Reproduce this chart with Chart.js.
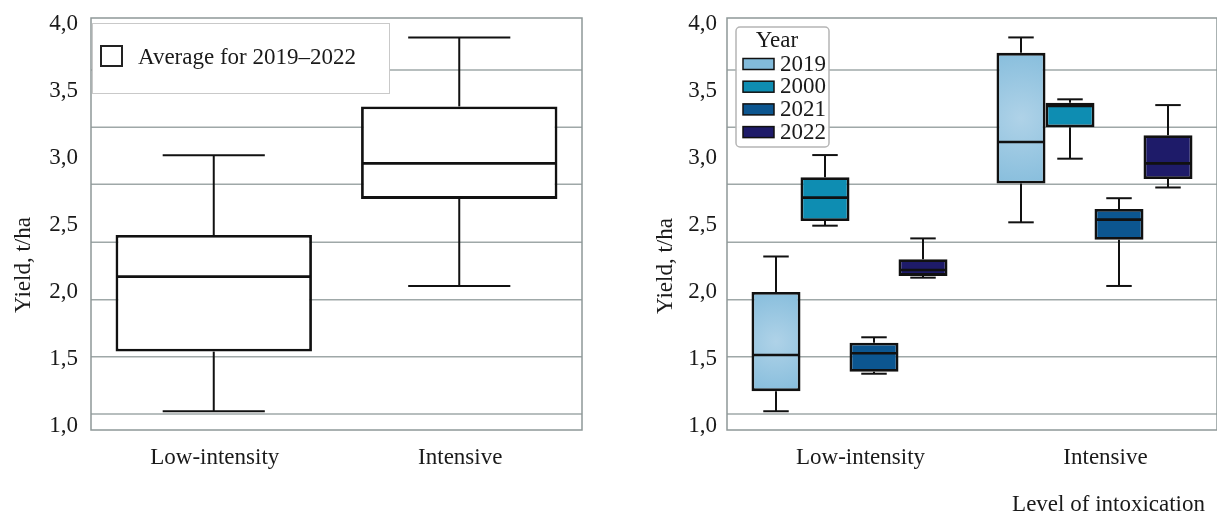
<!DOCTYPE html>
<html>
<head>
<meta charset="utf-8">
<script src="https://cdn.jsdelivr.net/npm/chart.js@4"></script>
<style>
  body { margin: 0; background: #fff; }
  #wrap { position: relative; width: 1217px; height: 515px; }
  canvas { position: absolute; top: 0; }
</style>
</head>
<body>
<div id="wrap">
  <canvas id="avg-chart" width="600" height="515" style="left:0"></canvas>
  <canvas id="year-chart" width="617" height="515" style="left:600px"></canvas>
</div>
<script>
// Data
var categories = ['Low-intensity', 'Intensive'];
var yTicks = [1.0, 1.5, 2.0, 2.5, 3.0, 3.5, 4.0];
// the grid lines in the figure do not sit on the tick labels
var gridValues = [1.09, 1.517, 1.943, 2.371, 2.804, 3.229, 3.657];

var avgMin = [1.11, 2.045];
var avgQ1 = [1.555, 2.695];
var avgMedian = [2.115, 2.96];
var avgQ3 = [2.425, 3.385];
var avgMax = [3.02, 3.90];

var yearLabels = ['2019', '2000', '2021', '2022'];
var yearColors = ['#82bbdb', '#0e8db2', '#0c5690', '#1e1b69'];

var min2019 = [1.11, 2.52];
var q1of2019 = [1.26, 2.81];
var median2019 = [1.53, 3.12];
var q3of2019 = [2.0, 3.785];
var max2019 = [2.265, 3.90];

var min2000 = [2.495, 2.995];
var q1of2000 = [2.53, 3.23];
var median2000 = [2.704, 3.388];
var q3of2000 = [2.856, 3.413];
var max2000 = [3.022, 3.438];

var min2021 = [1.39, 2.045];
var q1of2021 = [1.405, 2.39];
var median2021 = [1.543, 2.54];
var q3of2021 = [1.622, 2.62];
var max2021 = [1.662, 2.70];

var min2022 = [2.107, 2.78];
var q1of2022 = [2.12, 2.843];
var median2022 = [2.164, 2.96];
var q3of2022 = [2.244, 3.17];
var max2022 = [2.40, 3.395];

var FONT = "'Liberation Serif', 'Times New Roman', serif";
var TEXT = '#1a1a1a';
var FS = 23;

Chart.defaults.font.family = FONT;
Chart.defaults.font.size = FS;
Chart.defaults.color = TEXT;

function boxDataset(label, mins, q1s, medians, q3s, maxs, color) {
  return {
    label: label,
    data: q1s.map(function(q, i) { return [q, q3s[i]]; }),
    stats: { min: mins, median: medians, max: maxs },
    backgroundColor: color,
    borderColor: '#111',
    borderWidth: 2.8,
    borderSkipped: false,
    barPercentage: 1,
    categoryPercentage: 0.8
  };
}

function line(ctx, x1, y1, x2, y2) {
  ctx.beginPath();
  ctx.moveTo(x1, y1);
  ctx.lineTo(x2, y2);
  ctx.stroke();
}

// grid, frame, whiskers and medians
var boxPlugin = {
  id: 'boxWhiskers',
  beforeDatasetsDraw: function(chart) {
    var ctx = chart.ctx, area = chart.chartArea, y = chart.scales.y;
    ctx.save();
    ctx.strokeStyle = '#9fa8a8';
    ctx.lineWidth = 1.5;
    gridValues.forEach(function(v) {
      var py = y.getPixelForValue(v);
      line(ctx, area.left, py, area.right, py);
    });
    ctx.strokeStyle = '#8e9898';
    ctx.strokeRect(area.left, area.top, area.right - area.left, area.bottom - area.top);
    ctx.restore();
  },
  afterDatasetsDraw: function(chart) {
    var ctx = chart.ctx, y = chart.scales.y;
    ctx.save();
    chart.data.datasets.forEach(function(ds, d) {
      var meta = chart.getDatasetMeta(d);
      meta.data.forEach(function(bar, i) {
        var p = bar.getProps(['x', 'y', 'base', 'width'], true);
        var left = p.x - p.width / 2, right = p.x + p.width / 2;
        var top = Math.min(p.y, p.base), bottom = Math.max(p.y, p.base);
        if (ds.glow) {
          var cx = p.x, cy = (top + bottom) / 2;
          var g = ctx.createRadialGradient(cx, cy, 0, cx, cy, Math.max(p.width, bottom - top) * 0.6);
          g.addColorStop(0, 'rgba(190,218,236,0.75)');
          g.addColorStop(1, 'rgba(190,218,236,0)');
          ctx.fillStyle = g;
          ctx.fillRect(left + 2.8, top + 2.8, p.width - 5.6, bottom - top - 5.6);
        }
        ctx.strokeStyle = '#111';
        ctx.lineWidth = 2.6;
        var med = y.getPixelForValue(ds.stats.median[i]);
        line(ctx, left + 1, med, right - 1, med);
        var hi = y.getPixelForValue(ds.stats.max[i]);
        var lo = y.getPixelForValue(ds.stats.min[i]);
        var cap = p.width * 0.26;
        ctx.lineWidth = 2;
        line(ctx, p.x, top, p.x, hi);
        line(ctx, p.x - cap, hi, p.x + cap, hi);
        line(ctx, p.x, bottom, p.x, lo);
        line(ctx, p.x - cap, lo, p.x + cap, lo);
      });
    });
    ctx.restore();
  }
};

// axis titles placed where the figure has them
var titlePlugin = {
  id: 'axisTitles',
  afterDraw: function(chart, args, opts) {
    var ctx = chart.ctx;
    ctx.save();
    ctx.font = FS + 'px ' + FONT;
    ctx.fillStyle = TEXT;
    ctx.textBaseline = 'middle';
    if (opts.yText) {
      ctx.save();
      ctx.translate(opts.yX, opts.yY);
      ctx.rotate(-Math.PI / 2);
      ctx.textAlign = 'center';
      ctx.fillText(opts.yText, 0, 0);
      ctx.restore();
    }
    if (opts.xText) {
      ctx.textAlign = 'right';
      ctx.fillText(opts.xText, opts.xRight, opts.xY);
    }
    ctx.restore();
  }
};

var avgLegendPlugin = {
  id: 'avgLegend',
  afterDraw: function(chart) {
    var ctx = chart.ctx, area = chart.chartArea;
    var bx = area.left + 1, by = area.top + 5;
    ctx.save();
    ctx.fillStyle = '#fff';
    ctx.fillRect(bx, by, 297, 70);
    ctx.strokeStyle = '#c9c9c9';
    ctx.lineWidth = 1;
    ctx.strokeRect(bx + 0.5, by + 0.5, 297, 70);
    ctx.strokeStyle = '#222';
    ctx.lineWidth = 2;
    ctx.strokeRect(bx + 9, by + 23, 21, 20);
    ctx.font = FS + 'px ' + FONT;
    ctx.fillStyle = TEXT;
    ctx.textBaseline = 'middle';
    ctx.fillText(chart.data.datasets[0].label, bx + 46, by + 35);
    ctx.restore();
  }
};

var yearLegendPlugin = {
  id: 'yearLegend',
  afterDraw: function(chart) {
    var ctx = chart.ctx, area = chart.chartArea;
    var bx = area.left + 9, by = area.top + 9, bw = 93, bh = 120;
    ctx.save();
    ctx.fillStyle = 'rgba(255,255,255,0.95)';
    ctx.strokeStyle = '#b5b5b5';
    ctx.lineWidth = 1.5;
    ctx.beginPath();
    ctx.roundRect(bx, by, bw, bh, 4);
    ctx.fill();
    ctx.stroke();
    ctx.font = FS + 'px ' + FONT;
    ctx.fillStyle = TEXT;
    ctx.textBaseline = 'middle';
    ctx.textAlign = 'center';
    ctx.fillText('Year', bx + 41, by + 14);
    ctx.textAlign = 'left';
    chart.data.datasets.forEach(function(ds, i) {
      var ry = by + 36.5 + i * 22.7;
      ctx.fillStyle = ds.backgroundColor;
      ctx.fillRect(bx + 7, ry - 5, 31, 11);
      ctx.strokeStyle = '#111';
      ctx.lineWidth = 1.5;
      ctx.strokeRect(bx + 7, ry - 5, 31, 11);
      ctx.fillStyle = TEXT;
      ctx.fillText(ds.label, bx + 44, ry + 1);
    });
    ctx.restore();
  }
};

function makeOptions(yWidth, tickPad, labelShift, titles) {
  return {
    responsive: false,
    animation: false,
    devicePixelRatio: 1,
    layout: { padding: { top: 18, right: titles.padRight, left: 0, bottom: 0 } },
    scales: {
      x: {
        type: 'category',
        grid: { display: false, drawTicks: false },
        border: { display: false },
        ticks: { padding: 14, labelOffset: labelShift, maxRotation: 0, color: TEXT },
        afterFit: function(scale) {
          scale.height = 85;
          scale.paddingLeft = 0;
          scale.paddingRight = 0;
        }
      },
      y: {
        min: 0.97,
        max: 4.045,
        grid: { display: false, drawTicks: false },
        border: { display: false },
        afterBuildTicks: function(scale) {
          scale.ticks = yTicks.map(function(v) { return { value: v }; });
        },
        ticks: {
          padding: tickPad,
          color: TEXT,
          callback: function(v) { return v.toFixed(1).replace('.', ','); }
        },
        afterFit: function(scale) {
          scale.width = yWidth;
          scale.paddingTop = 0;
          scale.paddingBottom = 0;
        }
      }
    },
    plugins: {
      legend: { display: false },
      tooltip: { enabled: false },
      axisTitles: titles
    }
  };
}

var avgChart = new Chart(document.getElementById('avg-chart').getContext('2d'), {
  type: 'bar',
  data: {
    labels: categories,
    datasets: [
      boxDataset('Average for 2019\u20132022', avgMin, avgQ1, avgMedian, avgQ3, avgMax, '#ffffff')
    ]
  },
  options: makeOptions(91, 13, 1, { padRight: 18, yText: 'Yield, t/ha', yX: 24, yY: 265 }),
  plugins: [boxPlugin, titlePlugin, avgLegendPlugin]
});

var ds2019 = boxDataset(yearLabels[0], min2019, q1of2019, median2019, q3of2019, max2019, yearColors[0]);
ds2019.glow = true;

var yearChart = new Chart(document.getElementById('year-chart').getContext('2d'), {
  type: 'bar',
  data: {
    labels: categories,
    datasets: [
      ds2019,
      boxDataset(yearLabels[1], min2000, q1of2000, median2000, q3of2000, max2000, yearColors[1]),
      boxDataset(yearLabels[2], min2021, q1of2021, median2021, q3of2021, max2021, yearColors[2]),
      boxDataset(yearLabels[3], min2022, q1of2022, median2022, q3of2022, max2022, yearColors[3])
    ]
  },
  options: makeOptions(127, 10, 11, {
    padRight: 0,
    yText: 'Yield, t/ha', yX: 66, yY: 266,
    xText: 'Level of intoxication', xRight: 605, xY: 505
  }),
  plugins: [boxPlugin, titlePlugin, yearLegendPlugin]
});
</script>
</body>
</html>
